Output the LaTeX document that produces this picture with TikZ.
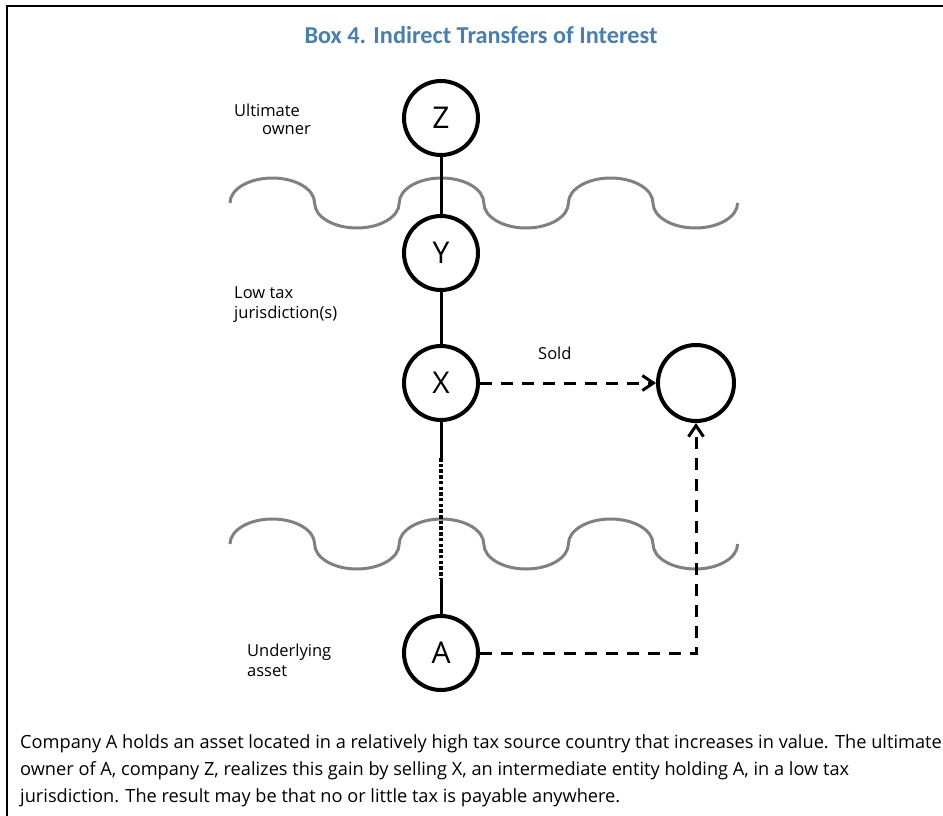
\documentclass[tikz,border=0pt]{standalone}
\usepackage{fontspec}
\setmainfont{Open Sans}
\newfontfamily\titlefont{Carlito}
\usetikzlibrary{arrows.meta}
\definecolor{titleblue}{RGB}{74,126,173}
\definecolor{wavegray}{RGB}{128,128,128}
\begin{document}
\begin{tikzpicture}[x=1pt,y=-1pt,
  ent/.style={circle, draw, line width=4pt, minimum size=74pt, inner sep=0pt, font=\fontsize{30}{30}\selectfont},
  link/.style={line width=3pt},
  dotlink/.style={line width=3.2pt, dash pattern=on 3.5pt off 2.2pt},
  transfer/.style={line width=3pt, dash pattern=on 12pt off 9pt, -{Straight Barb[length=11pt,width=15pt]}},
  lab/.style={font=\fontsize{16.5}{18}\selectfont, inner sep=0pt, anchor=base west},
  bodytext/.style={font=\fontsize{18.2}{20}\selectfont, inner sep=0pt, anchor=base west},
  wave/.style={draw=wavegray, line width=3pt},
  frame/.style={line width=1.6pt}
]
\useasboundingbox (0,0) rectangle (943,816);
% frame
\draw[frame] (7,816) -- (7,6) -- (943,6);
% title
\node[font=\titlefont\bfseries\fontsize{24.3}{28}\selectfont, text=titleblue, inner sep=0pt, anchor=base] (title) at (481,44) {Box 4. Indirect Transfers of Interest};
% waves
\draw[wave] (230,203)
  arc[start angle=180,end angle=0,x radius=42.3pt,y radius=25pt]
  arc[start angle=180,end angle=360,x radius=42.3pt,y radius=25pt]
  arc[start angle=180,end angle=0,x radius=42.3pt,y radius=25pt]
  arc[start angle=180,end angle=360,x radius=42.3pt,y radius=25pt]
  arc[start angle=180,end angle=0,x radius=42.3pt,y radius=25pt]
  arc[start angle=180,end angle=360,x radius=42.3pt,y radius=25pt];
\draw[wave] (230,544)
  arc[start angle=180,end angle=0,x radius=42.3pt,y radius=25pt]
  arc[start angle=180,end angle=360,x radius=42.3pt,y radius=25pt]
  arc[start angle=180,end angle=0,x radius=42.3pt,y radius=25pt]
  arc[start angle=180,end angle=360,x radius=42.3pt,y radius=25pt]
  arc[start angle=180,end angle=0,x radius=42.3pt,y radius=25pt]
  arc[start angle=180,end angle=360,x radius=42.3pt,y radius=25pt];
% entities
\node[ent] (Z) at (441,118) {Z};
\node[ent] (Y) at (441,253) {Y};
\node[ent] (X) at (441,383) {X};
\node[ent] (A) at (441,653) {A};
\node[ent, minimum size=76pt] (T) at (696,383) {};
\coordinate (c1) at (441,458);
\coordinate (c2) at (441,579);
% links
\draw[link] (Z) -- (Y);
\draw[link] (Y) -- (X);
\draw[link] (X) -- (c1);
\draw[dotlink] (c1) -- (c2);
\draw[link] (c2) -- (A);
\draw[transfer] (X) -- (T);
\draw[transfer] (A.east) -| (T.south);
% labels
\node[lab] (l1) at (234,116) {Ultimate};
\node[lab] (l2) at (262,135) {owner};
\node[lab] (l3) at (234,298) {Low tax};
\node[lab] (l4) at (234,318) {jurisdiction(s)};
\node[lab] (sold) at (538,359) {Sold};
\node[lab] (l5) at (247,656) {Underlying};
\node[lab] (l6) at (247,676) {asset};
% body
\node[bodytext] (b1) at (20,748) {Company A holds an asset located in a relatively high tax source country that increases in value. The ultimate};
\node[bodytext] (b2) at (20,775) {owner of A, company Z, realizes this gain by selling X, an intermediate entity holding A, in a low tax};
\node[bodytext] (b3) at (20,802) {jurisdiction. The result may be that no or little tax is payable anywhere.};
\end{tikzpicture}
\end{document}
